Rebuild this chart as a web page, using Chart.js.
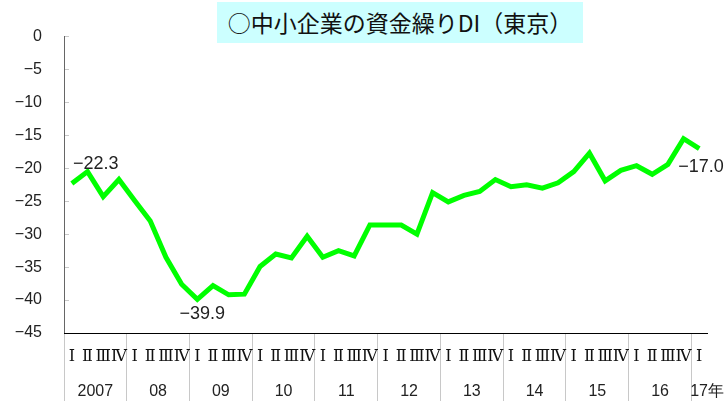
<!DOCTYPE html>
<html>
<head>
<meta charset="utf-8">
<script src="https://cdn.jsdelivr.net/npm/chart.js@4/dist/chart.umd.min.js"></script>
<style>
  body { margin: 0; background: #fff; }
  #wrap { position: relative; width: 728px; height: 401px; }
  #title {
    position: absolute; left: 217px; top: 2px; width: 366px; height: 41px;
    background: #ccffff; color: #111;
    font: 23px "Noto Sans CJK JP", sans-serif;
    line-height: 41px; text-align: center; white-space: nowrap;
  }
</style>
</head>
<body>
<div id="wrap">
  <canvas id="chart" width="728" height="401"></canvas>
  <div id="title">○中小企業の資金繰りDI（東京）</div>
</div>
<script>
// 2007 Q1 .. 2017 Q1
const diValues = [
  -22.3, -20.5, -24.3, -21.7,
  -24.9, -28.0, -33.5, -37.6,
  -39.9, -37.8, -39.2, -39.1,
  -34.9, -33.0, -33.6, -30.3,
  -33.5, -32.5, -33.3, -28.6,
  -28.6, -28.6, -30.0, -23.7,
  -25.1, -24.1, -23.5, -21.7,
  -22.8, -22.5, -23.0, -22.2,
  -20.5, -17.7, -21.9, -20.3,
  -19.6, -20.9, -19.4, -15.5,
  -17.0
];
const quarterNames = ['Ⅰ', 'Ⅱ', 'Ⅲ', 'Ⅳ'];
const yearLabels = ['2007', '08', '09', '10', '11', '12', '13', '14', '15', '16', '17年'];
const labeledPoints = [0, 8, 40];

const quarterLabels = diValues.map((v, i) => quarterNames[i % 4]);
const yearPositions = yearLabels.map((y, k) => Math.min(4 * k + 1.5, diValues.length - 0.5));

function fmt(v) {
  return v === 0 ? '0' : (v < 0 ? '\u2212' : '') + Math.abs(v);
}

// label offsets in px relative to the point
const labelStyle = {
  0: { dx: 24, dy: -19, align: 'center' },
  8: { dx: 5, dy: 15, align: 'center' },
  40: { dx: -21, dy: 18, align: 'left' }
};

const pointLabels = {
  id: 'pointLabels',
  afterDatasetsDraw(chart) {
    const ctx = chart.ctx;
    const meta = chart.getDatasetMeta(0);
    ctx.save();
    ctx.font = '18px "Liberation Sans", Arial, sans-serif';
    ctx.fillStyle = '#222';
    ctx.textBaseline = 'middle';
    labeledPoints.forEach(i => {
      const p = meta.data[i];
      const s = labelStyle[i];
      ctx.textAlign = s.align;
      const v = diValues[i];
      ctx.fillText('\u2212' + Math.abs(v).toFixed(1), p.x + s.dx, p.y + s.dy);
    });
    ctx.restore();
  }
};

new Chart(document.getElementById('chart'), {
  type: 'line',
  data: {
    labels: quarterLabels,
    datasets: [{
      data: diValues,
      borderColor: '#00ff00',
      borderWidth: 5,
      pointRadius: 0,
      tension: 0,
      fill: false
    }]
  },
  options: {
    responsive: false,
    animation: false,
    devicePixelRatio: 1,
    layout: { padding: { top: 35, right: 14, left: 0, bottom: 0 } },
    plugins: { legend: { display: false }, tooltip: { enabled: false } },
    scales: {
      y: {
        min: -45, max: 0,
        afterFit(s) { s.width = 64; },
        ticks: {
          stepSize: 5,
          padding: 27,
          color: '#222',
          font: { family: '"Liberation Sans", Arial, sans-serif', size: 16 },
          callback: v => fmt(v)
        },
        grid: { drawOnChartArea: false, tickLength: -5, color: '#c8c8c8' },
        border: { color: '#666', width: 1 }
      },
      x: {
        type: 'category',
        offset: true,
        weight: 0,
        afterFit(s) { s.height = 37; },
        ticks: {
          autoSkip: false,
          maxRotation: 0,
          padding: -54,
          color: '#111',
          font: { family: '"Liberation Serif", "DejaVu Serif", serif', size: 16 }
        },
        grid: {
          drawOnChartArea: false,
          offset: true,
          tickLength: 68,
          color: c => (c.index % 4 === 0 ? '#c8c8c8' : 'rgba(0,0,0,0)')
        },
        border: { color: '#000', width: 1 }
      },
      x2: {
        type: 'linear',
        position: 'bottom',
        weight: 1,
        min: -0.5,
        max: diValues.length - 0.5,
        afterFit(s) { s.height = 31; },
        afterBuildTicks(s) { s.ticks = yearPositions.map(v => ({ value: v })); },
        ticks: {
          autoSkip: false,
          maxRotation: 0,
          padding: 4,
          color: '#222',
          font: { family: '"Liberation Sans", Arial, sans-serif', size: 16 },
          callback: (v, i) => yearLabels[i]
        },
        grid: { display: false },
        border: { display: false }
      }
    }
  },
  plugins: [pointLabels]
});
</script>
</body>
</html>
